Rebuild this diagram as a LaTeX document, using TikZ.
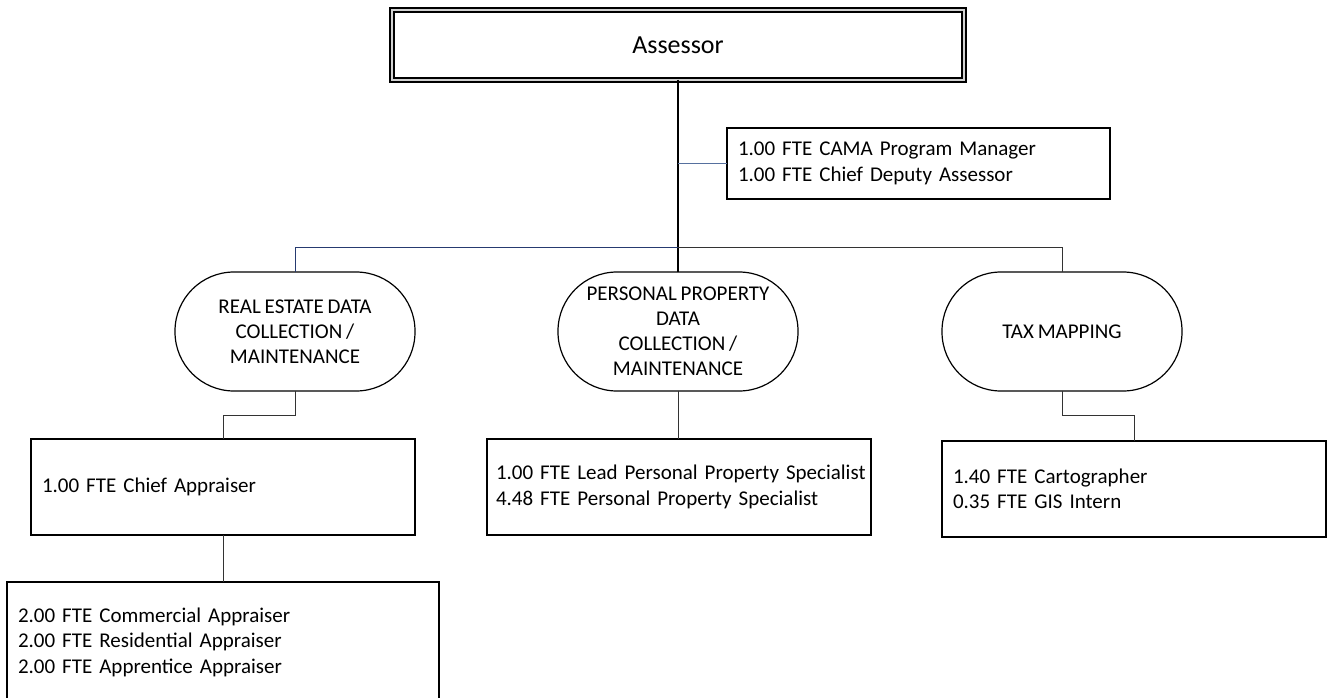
\documentclass[tikz,border=0pt]{standalone}
\usepackage{fontspec}
\setmainfont{Carlito}[WordSpace=0.8]
\hyphenpenalty=10000
\exhyphenpenalty=10000

\begin{document}
\begin{tikzpicture}[x=1pt,y=-1pt,
    box/.style={draw, line width=1.2pt, outer sep=0pt, inner xsep=11pt, align=left,
      anchor=north west, font=\fontsize{21}{25.5}\selectfont},
    unit/.style={draw, line width=1.2pt, outer sep=0pt, inner sep=3pt, rounded corners=59pt,
      minimum width=240pt, minimum height=119pt, align=center, font=\fontsize{21}{25}\selectfont},
    link/.style={line width=0.9pt, draw=black!80}]
          \definecolor{busblue}{RGB}{38,58,112}
          \definecolor{stafflink}{RGB}{86,112,158}
          \useasboundingbox (0,0) rectangle (1327,698);

          \node[draw, double=gray!35, double distance=1.6pt, line width=1.8pt, outer sep=0pt,
            minimum width=572pt, minimum height=70pt, font=\fontsize{26}{31}\selectfont]
            (assessor) at (678,45) {Assessor};
          \node[box, text width=361pt, minimum height=71pt] (deputy) at (727,128)
            {1.00 FTE CAMA Program Manager\\1.00 FTE Chief Deputy Assessor};

          \node[unit] (redata) at (295,331.5) {REAL ESTATE DATA\\COLLECTION /\\MAINTENANCE};
          \node[unit] (ppdata) at (678,331.5) {PERSONAL PROPERTY\\DATA\\COLLECTION /\\MAINTENANCE};
          \node[unit] (taxmap) at (1062,331.5) {TAX MAPPING};

          \node[box, text width=362pt, minimum height=96pt] (chief) at (31,439) {1.00 FTE Chief Appraiser};
          \node[box, text width=410pt, minimum height=120pt] (appraisers) at (7,582)
            {2.00 FTE Commercial Appraiser\\2.00 FTE Residential Appraiser\\2.00 FTE Apprentice Appraiser};
          \node[box, inner xsep=9pt, text width=366pt, minimum height=96pt] (ppstaff) at (487,439)
            {\mbox{1.00 FTE Lead Personal Property Specialist}\\4.48 FTE Personal Property Specialist};
          \node[box, text width=362pt, minimum height=96pt] (mapstaff) at (942,441)
            {1.40 FTE Cartographer\\0.35 FTE GIS Intern};

          \coordinate (bus) at (678,247);
          \draw[line width=1.6pt] (assessor.south) -- (ppdata.north);
          \draw[link, draw=stafflink] (assessor.south |- deputy.west) -- (deputy.west);
          \draw[link, draw=busblue] (redata.north) |- (bus);
          \draw[link] (bus) -| (taxmap.north);
          \draw[link] (redata.south) -- ++(0,24) -| (chief.north);
          \draw[link] (ppdata.south) -- (ppdata.south |- ppstaff.north);
          \draw[link] (taxmap.south) -- ++(0,24) -| (mapstaff.north);
          \draw[link] (chief.south) -- (appraisers.north);
    \end{tikzpicture}
\end{document}
